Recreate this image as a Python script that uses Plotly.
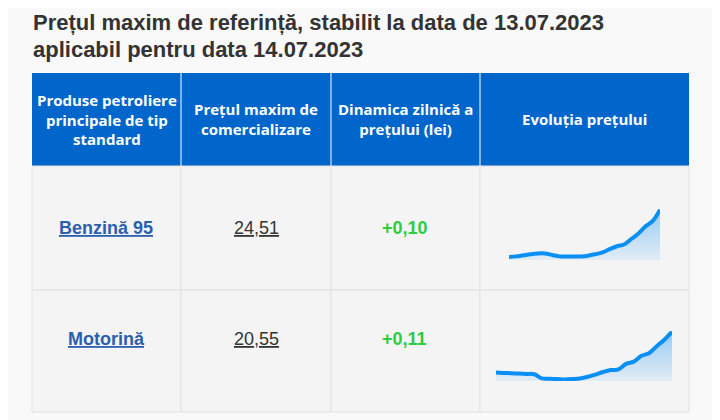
import plotly.graph_objects as go

W, H = 712, 412   # page body has an 8px margin
titlu = ["Prețul maxim de referință, stabilit la data de 13.07.2023", "aplicabil pentru data 14.07.2023"]
antet = ["Produse petroliere<br>principale de tip<br>standard", "Prețul maxim de<br>comercializare",
         "Dinamica zilnică a<br>prețului (lei)", "Evoluția prețului"]
produse = ["Benzină 95", "Motorină"]
preturi = ["24,51", "20,55"]
dinamica = ["+0,10", "+0,11"]
evol_benzina = [23.20, 23.22, 23.25, 23.28, 23.30, 23.30, 23.26, 23.22, 23.22, 23.22, 23.22, 23.24,
                23.28, 23.33, 23.42, 23.50, 23.55, 23.70, 23.85, 24.05, 24.20, 24.51]
evol_motorina = [19.28, 19.27, 19.26, 19.25, 19.24, 19.23, 19.10, 19.09, 19.08, 19.07, 19.08, 19.10,
                 19.15, 19.22, 19.30, 19.36, 19.38, 19.55, 19.62, 19.80, 19.88, 20.10, 20.30, 20.55]

def px_x(x): return (x - 8) / W
def px_y(y): return 1 - (y - 8) / H

fig = go.Figure()
shapes, ann = [], []
cols = [32, 181, 331, 480, 689]
# header
shapes.append(dict(type="rect", xref="paper", yref="paper", x0=px_x(32), x1=px_x(689),
                   y0=px_y(166), y1=px_y(73), fillcolor="#0066CC", line_width=0, layer="below"))
for c in cols[1:-1]:
    shapes.append(dict(type="line", xref="paper", yref="paper", x0=px_x(c), x1=px_x(c),
                       y0=px_y(166), y1=px_y(73), line=dict(color="white", width=1)))
for i, t in enumerate(antet):
    ann.append(dict(x=px_x((cols[i] + cols[i + 1]) / 2), y=px_y(119), xref="paper", yref="paper",
                    xanchor="center", yanchor="middle", align="center",
                    text="<b>" + t + "</b>", showarrow=False,
                    font=dict(family="Open Sans", size=15, color="white")))
# rows
rows = [(166, 290), (290, 412)]
for r, (y0, y1) in enumerate(rows):
    for i in range(4):
        shapes.append(dict(type="rect", xref="paper", yref="paper", x0=px_x(cols[i]), x1=px_x(cols[i + 1]),
                           y0=px_y(y1), y1=px_y(y0), fillcolor="#f4f4f4",
                           line=dict(color="#e2e2e6", width=1), layer="below"))
    yc = px_y((y0 + y1) / 2)
    ann.append(dict(x=px_x(106), y=yc, xref="paper", yref="paper", showarrow=False, xanchor="center",
                    text="<b><span style='text-decoration:underline'>" + produse[r] + "</span></b>",
                    font=dict(family="Liberation Sans", size=18, color="#2a5fae")))
    ann.append(dict(x=px_x(256), y=yc, xref="paper", yref="paper", showarrow=False, xanchor="center",
                    text="<span style='text-decoration:underline'>" + preturi[r] + "</span>",
                    font=dict(family="Liberation Sans", size=18, color="#333")))
    ann.append(dict(x=px_x(405), y=yc, xref="paper", yref="paper", showarrow=False, xanchor="center",
                    text="<b>" + dinamica[r] + "</b>",
                    font=dict(family="Liberation Sans", size=18, color="#2ecc40")))
for j, t in enumerate(titlu):
    ann.append(dict(x=px_x(31), y=px_y(23 + 27 * j), xref="paper", yref="paper", xanchor="left",
                    yanchor="middle", showarrow=False, text="<b>" + t + "</b>",
                    font=dict(family="Liberation Sans", size=22, color="#333")))

# sparklines
spark = [(evol_benzina, 509, 660, 209, 260, 23.12), (evol_motorina, 496, 672, 331, 381, 19.02)]
for k, (vals, xa, xb, ya, yb, base) in enumerate(spark, start=1):
    fig.add_trace(go.Scatter(y=vals, mode="lines", line=dict(color="#0a8ff5", width=4, shape="spline"),
                             fill="tozeroy", fillgradient=dict(type="vertical", start=base, stop=max(vals),
                                 colorscale=[[0, "rgba(10,143,245,0.08)"], [1, "rgba(10,143,245,0.4)"]]),
                             xaxis="x%d" % k, yaxis="y%d" % k, hoverinfo="skip", showlegend=False))
    fig.update_layout(**{
        "xaxis%d" % k: dict(domain=[px_x(xa), px_x(xb)], visible=False, range=[0, len(vals) - 1],
                            anchor="y%d" % k),
        "yaxis%d" % k: dict(domain=[px_y(yb), px_y(ya)], visible=False, range=[base, max(vals) + 0.02],
                            anchor="x%d" % k),
    })

fig.update_layout(width=W, height=H, margin=dict(l=0, r=0, t=0, b=0), paper_bgcolor="#f9f9f9",
                  plot_bgcolor="rgba(0,0,0,0)", shapes=shapes, annotations=ann)
fig.write_html("out.html")
